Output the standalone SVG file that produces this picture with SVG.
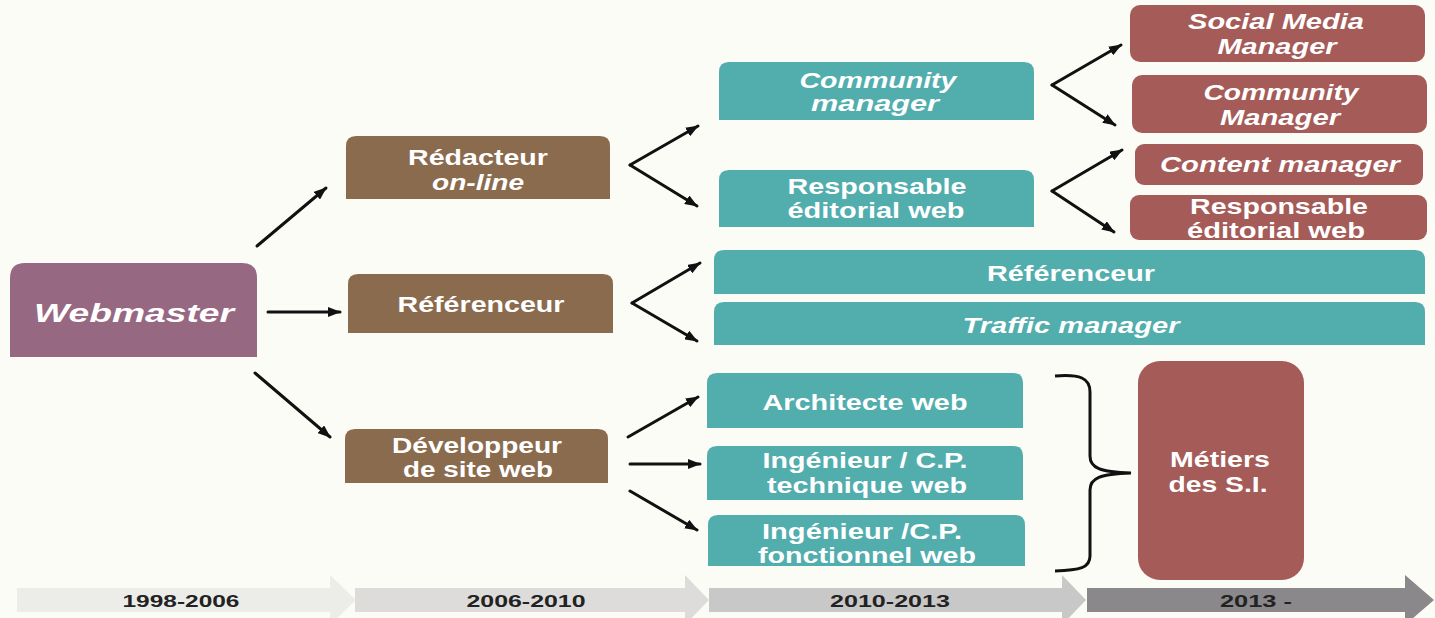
<svg xmlns="http://www.w3.org/2000/svg" width="1435" height="618" viewBox="0 0 1435 618">
  <defs>
    <marker id="tip" markerUnits="userSpaceOnUse" markerWidth="13" markerHeight="10" refX="12" refY="5" orient="auto">
      <path d="M0,0 L13,5 L0,10 Z" fill="#111"/>
    </marker>
    <style>
      .purple { fill: #976882; }
      .brown { fill: #8B6B4E; }
      .teal { fill: #52ADAD; }
      .red { fill: #A55B58; }
      .lbl { font-family: "Liberation Sans", Arial, sans-serif; font-weight: bold; font-size: 21.5px; fill: #ffffff; text-anchor: middle; }
      .it { font-style: italic; }
      .year { font-family: "Liberation Sans", Arial, sans-serif; font-weight: bold; font-size: 17px; fill: #222222; text-anchor: middle; }
      .link { stroke: #111; stroke-width: 3; fill: none; marker-end: url(#tip); stroke-linecap: round; }
      .brace { stroke: #111; stroke-width: 3; fill: none; }
    </style>
  </defs>

  <rect width="1435" height="618" fill="#FCFCF7"/>

  <!-- timeline -->
  <g id="timeline">
    <path d="M17,588 L330,588 L330,575 L356,600 L330,625 L330,612 L17,612 Z" fill="#ECECE8"/>
    <path d="M355,588 L685,588 L685,575 L709,600 L685,625 L685,612 L355,612 Z" fill="#DEDCDA"/>
    <path d="M709,588 L1062,588 L1062,575 L1086,600 L1062,625 L1062,612 L709,612 Z" fill="#C8C8C8"/>
    <path d="M1087,588 L1405,588 L1405,575 L1434,600 L1405,625 L1405,612 L1087,612 Z" fill="#8A888A"/>
    <text class="year" x="181" y="607" textLength="117" lengthAdjust="spacingAndGlyphs">1998-2006</text>
    <text class="year" x="526" y="607" textLength="119" lengthAdjust="spacingAndGlyphs">2006-2010</text>
    <text class="year" x="890" y="607" textLength="120" lengthAdjust="spacingAndGlyphs">2010-2013</text>
    <text class="year" x="1256" y="607" textLength="72" lengthAdjust="spacingAndGlyphs">2013 -</text>
  </g>

  <!-- connectors -->
  <g id="connectors">
    <line class="link" x1="257" y1="246" x2="326" y2="188"/>
    <line class="link" x1="268" y1="312" x2="340" y2="312"/>
    <line class="link" x1="255" y1="373" x2="330" y2="437"/>
    <line class="link" x1="630" y1="165" x2="698" y2="126"/>
    <line class="link" x1="630" y1="165" x2="697" y2="206"/>
    <line class="link" x1="632" y1="303" x2="700" y2="263"/>
    <line class="link" x1="632" y1="303" x2="697" y2="341"/>
    <line class="link" x1="628" y1="437" x2="698" y2="397"/>
    <line class="link" x1="630" y1="464" x2="700" y2="464"/>
    <line class="link" x1="630" y1="491" x2="697" y2="530"/>
    <line class="link" x1="1052" y1="85" x2="1121" y2="45"/>
    <line class="link" x1="1052" y1="85" x2="1115" y2="125"/>
    <line class="link" x1="1052" y1="191" x2="1122" y2="150"/>
    <line class="link" x1="1052" y1="191" x2="1114" y2="232"/>
    <path class="brace" d="M1055,376 C1080,374 1090,378 1090,392 L1090,456 C1090,468 1100,472 1131,473 C1100,474 1090,478 1090,490 L1090,556 C1090,568 1080,570 1055,571"/>
  </g>

  <g id="webmaster">
    <path class="purple" d="M10,278 Q10,263 25,263 L242,263 Q257,263 257,278 L257,357 L10,357 Z"/>
    <text class="lbl it" x="134" y="322" style="font-size:26px" textLength="200" lengthAdjust="spacingAndGlyphs">Webmaster</text>
  </g>

  <g id="redacteur">
    <path class="brown" d="M346,146 Q346,136 356,136 L600,136 Q610,136 610,146 L610,199 L346,199 Z"/>
    <text class="lbl" x="478" y="165" textLength="140" lengthAdjust="spacingAndGlyphs">Rédacteur</text>
    <text class="lbl it" x="478" y="190" textLength="92" lengthAdjust="spacingAndGlyphs">on-line</text>
  </g>

  <g id="referenceur-1">
    <path class="brown" d="M348,284 Q348,274 358,274 L603,274 Q613,274 613,284 L613,333 L348,333 Z"/>
    <text class="lbl" x="481" y="312" textLength="167" lengthAdjust="spacingAndGlyphs">Référenceur</text>
  </g>

  <g id="developpeur">
    <path class="brown" d="M345,439 Q345,429 355,429 L598,429 Q608,429 608,439 L608,483 L345,483 Z"/>
    <text class="lbl" x="477" y="453" textLength="170" lengthAdjust="spacingAndGlyphs">Développeur</text>
    <text class="lbl" x="478" y="477" textLength="150" lengthAdjust="spacingAndGlyphs">de site web</text>
  </g>

  <g id="community-manager-1">
    <path class="teal" d="M719,72 Q719,62 729,62 L1024,62 Q1034,62 1034,72 L1034,120 L719,120 Z"/>
    <text class="lbl it" x="878" y="88" textLength="157" lengthAdjust="spacingAndGlyphs">Community</text>
    <text class="lbl it" x="875" y="111" textLength="128" lengthAdjust="spacingAndGlyphs">manager</text>
  </g>

  <g id="responsable-1">
    <path class="teal" d="M719,180 Q719,170 729,170 L1024,170 Q1034,170 1034,180 L1034,227 L719,227 Z"/>
    <text class="lbl" x="877" y="194" textLength="179" lengthAdjust="spacingAndGlyphs">Responsable</text>
    <text class="lbl" x="876" y="218" textLength="177" lengthAdjust="spacingAndGlyphs">éditorial web</text>
  </g>

  <g id="referenceur-2">
    <path class="teal" d="M714,260 Q714,250 724,250 L1415,250 Q1425,250 1425,260 L1425,294 L714,294 Z"/>
    <text class="lbl" x="1071" y="281" textLength="168" lengthAdjust="spacingAndGlyphs">Référenceur</text>
  </g>

  <g id="traffic-manager">
    <path class="teal" d="M714,312 Q714,302 724,302 L1415,302 Q1425,302 1425,312 L1425,345 L714,345 Z"/>
    <text class="lbl it" x="1071" y="333" textLength="217" lengthAdjust="spacingAndGlyphs">Traffic manager</text>
  </g>

  <g id="architecte">
    <path class="teal" d="M707,383 Q707,373 717,373 L1013,373 Q1023,373 1023,383 L1023,428 L707,428 Z"/>
    <text class="lbl" x="865" y="410" textLength="205" lengthAdjust="spacingAndGlyphs">Architecte web</text>
  </g>

  <g id="ingenieur-technique">
    <path class="teal" d="M707,456 Q707,446 717,446 L1013,446 Q1023,446 1023,456 L1023,500 L707,500 Z"/>
    <text class="lbl" x="865" y="468" textLength="205" lengthAdjust="spacingAndGlyphs">Ingénieur / C.P.</text>
    <text class="lbl" x="867" y="493" textLength="200" lengthAdjust="spacingAndGlyphs">technique web</text>
  </g>

  <g id="ingenieur-fonctionnel">
    <path class="teal" d="M708,525 Q708,515 718,515 L1015,515 Q1025,515 1025,525 L1025,566 L708,566 Z"/>
    <text class="lbl" x="862" y="539" textLength="200" lengthAdjust="spacingAndGlyphs">Ingénieur /C.P.</text>
    <text class="lbl" x="867" y="563" textLength="218" lengthAdjust="spacingAndGlyphs">fonctionnel web</text>
  </g>

  <g id="social-media-manager">
    <rect class="red" x="1130" y="5" width="295" height="57" rx="10"/>
    <text class="lbl it" x="1276" y="29" textLength="176" lengthAdjust="spacingAndGlyphs">Social Media</text>
    <text class="lbl it" x="1277" y="54" textLength="119" lengthAdjust="spacingAndGlyphs">Manager</text>
  </g>

  <g id="community-manager-2">
    <rect class="red" x="1132" y="75" width="295" height="58" rx="10"/>
    <text class="lbl it" x="1281" y="100" textLength="155" lengthAdjust="spacingAndGlyphs">Community</text>
    <text class="lbl it" x="1280" y="125" textLength="120" lengthAdjust="spacingAndGlyphs">Manager</text>
  </g>

  <g id="content-manager">
    <rect class="red" x="1135" y="144" width="288" height="41" rx="9"/>
    <text class="lbl it" x="1280" y="172" textLength="240" lengthAdjust="spacingAndGlyphs">Content manager</text>
  </g>

  <g id="responsable-2">
    <rect class="red" x="1130" y="195" width="297" height="45" rx="9"/>
    <text class="lbl" x="1279" y="214" textLength="178" lengthAdjust="spacingAndGlyphs">Responsable</text>
    <text class="lbl" x="1276" y="238" textLength="178" lengthAdjust="spacingAndGlyphs">éditorial web</text>
  </g>

  <g id="metiers-si">
    <rect class="red" x="1138" y="361" width="166" height="219" rx="22"/>
    <text class="lbl" x="1220" y="467" textLength="100" lengthAdjust="spacingAndGlyphs">Métiers</text>
    <text class="lbl" x="1218" y="492" textLength="99" lengthAdjust="spacingAndGlyphs">des S.I.</text>
  </g>
</svg>
